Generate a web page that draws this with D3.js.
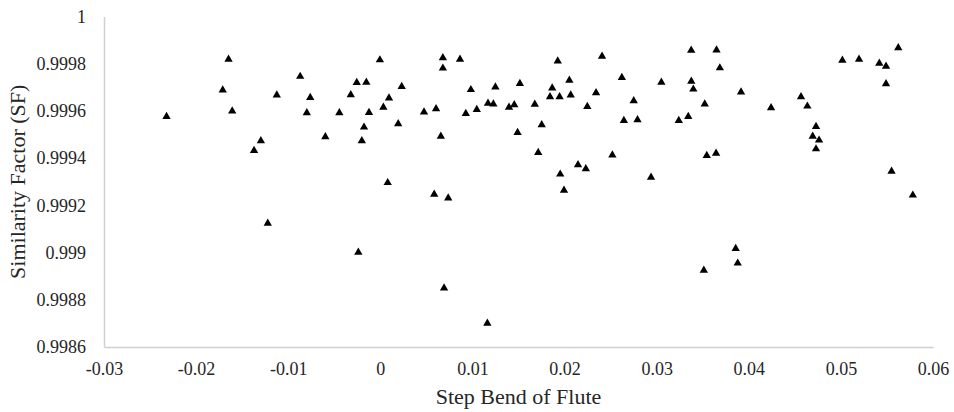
<!DOCTYPE html>
<html>
<head>
<meta charset="utf-8">
<script src="https://cdn.jsdelivr.net/npm/d3@7"></script>
<style>
  html, body { margin: 0; padding: 0; background: #fff; }
  svg { display: block; }
  text { font-family: "Liberation Serif", "Times New Roman", serif; fill: #262626; }
</style>
</head>
<body>
<svg id="chart" width="954" height="412"></svg>
<script>
// Step bend of flute (x) values
const stepBend = [
  -0.02321, -0.01648, -0.01711, -0.01608, -0.01297, -0.01371, -0.01124, -0.00870, -0.00761, -0.00798,
  -0.01222, -0.00005, -0.00256, -0.00152, 0.00232, -0.00321, 0.00094, 0.00033, -0.00445, -0.00123,
  -0.00177, 0.00194, -0.00597, -0.00201, 0.00080, -0.00239, 0.00679, 0.00865, 0.00679, 0.00983,
  0.01249, 0.01515, 0.00474, 0.00605, 0.00928, 0.01047, 0.01169, 0.01227, 0.01397, 0.01454,
  0.00657, 0.01490, 0.00585, 0.00737, 0.00692, 0.01162, 0.01926, 0.02407, 0.02052, 0.02622,
  0.01866, 0.01842, 0.01946, 0.02067, 0.02342, 0.01677, 0.02247, 0.02751, 0.01752, 0.02644,
  0.02792, 0.01714, 0.02519, 0.02146, 0.02231, 0.01953, 0.02939, 0.01994, 0.03375, 0.03650,
  0.03686, 0.03051, 0.03376, 0.03398, 0.03916, 0.03522, 0.04242, 0.03240, 0.03343, 0.03544,
  0.03645, 0.03858, 0.03880, 0.03512, 0.05016, 0.05197, 0.05417, 0.05490, 0.05623, 0.05490,
  0.04567, 0.04636, 0.04730, 0.04694, 0.04763, 0.04730, 0.05550, 0.05781
];
// Similarity factor (y) values
const similarity = [
  0.999576, 0.999819, 0.999688, 0.999599, 0.999473, 0.999432, 0.999667, 0.999746, 0.999657, 0.999592,
  0.999124, 0.999816, 0.999720, 0.999721, 0.999703, 0.999668, 0.999654, 0.999615, 0.999592, 0.999593,
  0.999531, 0.999545, 0.999490, 0.999473, 0.999296, 0.999001, 0.999825, 0.999819, 0.999781, 0.999690,
  0.999701, 0.999716, 0.999595, 0.999609, 0.999589, 0.999606, 0.999632, 0.999629, 0.999615, 0.999626,
  0.999492, 0.999508, 0.999247, 0.999231, 0.998850, 0.998700, 0.999811, 0.999831, 0.999730, 0.999741,
  0.999697, 0.999660, 0.999660, 0.999667, 0.999677, 0.999628, 0.999618, 0.999643, 0.999541, 0.999559,
  0.999562, 0.999424, 0.999413, 0.999372, 0.999355, 0.999332, 0.999319, 0.999264, 0.999857, 0.999858,
  0.999782, 0.999721, 0.999725, 0.999692, 0.999680, 0.999629, 0.999613, 0.999559, 0.999576, 0.999411,
  0.999420, 0.999017, 0.998955, 0.998925, 0.999814, 0.999819, 0.999802, 0.999789, 0.999867, 0.999715,
  0.999660, 0.999620, 0.999534, 0.999492, 0.999476, 0.999439, 0.999344, 0.999243
];
const xTicks = [-0.03, -0.02, -0.01, 0, 0.01, 0.02, 0.03, 0.04, 0.05, 0.06];
const xTickLabels = ["-0.03", "-0.02", "-0.01", "0", "0.01", "0.02", "0.03", "0.04", "0.05", "0.06"];
const yTicks = [0.9986, 0.9988, 0.999, 0.9992, 0.9994, 0.9996, 0.9998, 1];
const yTickLabels = ["0.9986", "0.9988", "0.999", "0.9992", "0.9994", "0.9996", "0.9998", "1"];
const xTitle = "Step Bend of Flute";
const yTitle = "Similarity Factor (SF)";

const points = stepBend.map((x, i) => ({ x, y: similarity[i] }));

const svg = d3.select("#chart");
const x = d3.scaleLinear().domain([-0.03, 0.06]).range([104, 933]);
const y = d3.scaleLinear().domain([0.9986, 1]).range([347, 16.5]);

const axisColor = "#d0d0d0";

const gx = svg.append("g")
  .attr("transform", `translate(0,${y(0.9986)})`)
  .call(d3.axisBottom(x).tickValues(xTicks)
    .tickFormat((d, i) => xTickLabels[i]).tickSize(0).tickPadding(15));
gx.select(".domain").attr("stroke", axisColor).attr("stroke-width", 1.5);
gx.selectAll("text").style("font-size", "18px").attr("font-family", null);

const gy = svg.append("g")
  .attr("transform", `translate(${x(-0.03)},0)`)
  .call(d3.axisLeft(y).tickValues(yTicks)
    .tickFormat((d, i) => yTickLabels[i]).tickSize(0).tickPadding(18));
gy.select(".domain").attr("stroke", axisColor).attr("stroke-width", 1.5);
gy.selectAll("text").style("font-size", "18px").attr("font-family", null);

svg.append("g")
  .selectAll("path")
  .data(points)
  .join("path")
  .attr("transform", d => `translate(${x(d.x)},${y(d.y)})`)
  .attr("d", d3.symbol().type(d3.symbolTriangle).size(30))
  .attr("fill", "#000");

svg.append("text")
  .attr("x", (x(-0.03) + x(0.06)) / 2)
  .attr("y", 404)
  .attr("text-anchor", "middle")
  .style("font-size", "22px")
  .text(xTitle);

svg.append("text")
  .attr("transform", `translate(25,${(y(0.9986) + y(1)) / 2}) rotate(-90)`)
  .attr("text-anchor", "middle")
  .style("font-size", "22px")
  .text(yTitle);
</script>
</body>
</html>
